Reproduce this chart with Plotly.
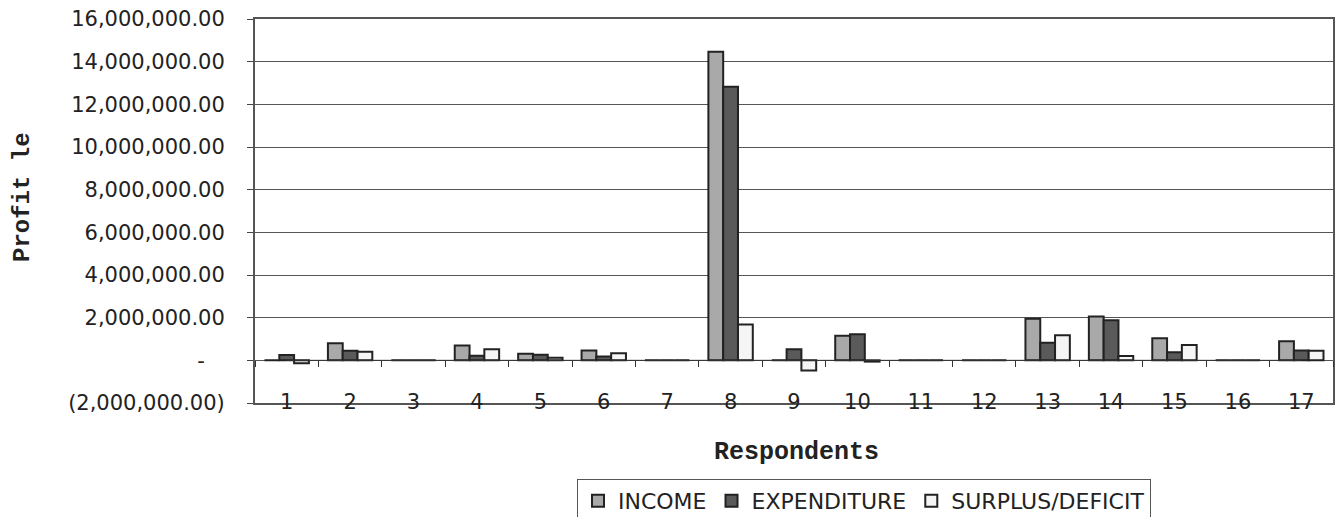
import plotly.graph_objects as go

categories = [str(i) for i in range(1, 18)]
income = [0, 800000, 0, 690000, 310000, 460000, 0, 14470000, 0, 1150000, 0, 0,
          1950000, 2050000, 1040000, 0, 900000]
expenditure = [250000, 450000, 0, 220000, 260000, 180000, 0, 12830000, 520000, 1220000, 0, 0,
               820000, 1880000, 380000, 0, 460000]
surplus = [-140000, 400000, 0, 520000, 120000, 330000, 0, 1680000, -480000, -60000, 0, 0,
           1180000, 200000, 720000, 0, 450000]

y_tickvals = [-2000000, 0, 2000000, 4000000, 6000000, 8000000, 10000000, 12000000, 14000000, 16000000]
y_ticktext = ["(2,000,000.00)", "-\u00a0\u00a0\u00a0", "2,000,000.00", "4,000,000.00", "6,000,000.00",
              "8,000,000.00", "10,000,000.00", "12,000,000.00", "14,000,000.00", "16,000,000.00"]

LABEL_FONT = "DejaVu Sans"
TITLE_FONT = "Liberation Mono"
edge = dict(color="#222222", width=2)

fig = go.Figure()
fig.add_trace(go.Bar(name="INCOME", x=categories, y=income,
                     marker=dict(color="#a9a9a9", line=edge)))
fig.add_trace(go.Bar(name="EXPENDITURE", x=categories, y=expenditure,
                     marker=dict(color="#5a5a5a", line=edge)))
fig.add_trace(go.Bar(name="SURPLUS/DEFICIT", x=categories, y=surplus,
                     marker=dict(color="#f5f5f5", line=edge)))
# helper trace carrying the tick marks on the zero line
fig.add_trace(go.Scatter(x=categories, y=[0] * len(categories), xaxis="x2",
                         mode="lines", line=dict(color="#333333", width=1),
                         showlegend=False, hoverinfo="skip"))

ymin, ymax = -2000000, 16000000

fig.update_layout(
    width=1336, height=517,
    margin=dict(l=255, r=3, t=19, b=114, autoexpand=False),
    paper_bgcolor="white", plot_bgcolor="white",
    barmode="group", bargap=0.3, bargroupgap=0,
    font=dict(family=LABEL_FONT, color="#222222"),
    xaxis=dict(
        type="category", categoryarray=categories,
        showline=True, linecolor="#555555", linewidth=2, mirror=True,
        ticks="", showgrid=False, automargin=False,
        tickfont=dict(family=LABEL_FONT, size=21, color="#222222"),
        ticklabelstandoff=-21,
    ),
    xaxis2=dict(
        type="category", categoryarray=categories, overlaying="x",
        matches="x", anchor="free", position=(0 - ymin) / (ymax - ymin),
        side="bottom", showline=False, showgrid=False,
        ticks="outside", ticklen=6, tickcolor="#333333", tickwidth=1,
        tickson="boundaries", showticklabels=False,
    ),
    yaxis=dict(
        range=[ymin, ymax], tickvals=y_tickvals, ticktext=y_ticktext,
        showline=True, linecolor="#555555", linewidth=2, mirror=True,
        showgrid=True, gridcolor="#555555", gridwidth=1,
        zeroline=False, automargin=False,
        ticks="outside", ticklen=6, tickcolor="#444444",
        tickfont=dict(family=LABEL_FONT, size=21, color="#222222"),
        ticklabelstandoff=18,
    ),
    legend=dict(
        orientation="h", x=(864 - 255) / 1078, xanchor="center",
        y=(403 - 479) / 384, yanchor="top",
        bordercolor="#555555", borderwidth=1,
        font=dict(family=LABEL_FONT, size=22, color="#222222"),
        itemwidth=30, traceorder="normal",
    ),
    annotations=[
        dict(text="<b>Profit le</b>", textangle=-90, xref="paper", yref="paper",
             x=(22 - 255) / 1078, y=(403 - 197) / 384, showarrow=False,
             xanchor="center", yanchor="middle",
             font=dict(family=TITLE_FONT, size=24, color="#222222")),
        dict(text="<b>Respondents</b>", xref="paper", yref="paper",
             x=(796 - 255) / 1078, y=(403 - 452) / 384, showarrow=False,
             xanchor="center", yanchor="middle",
             font=dict(family=TITLE_FONT, size=25, color="#222222")),
    ],
)

fig.write_html("out.html")
